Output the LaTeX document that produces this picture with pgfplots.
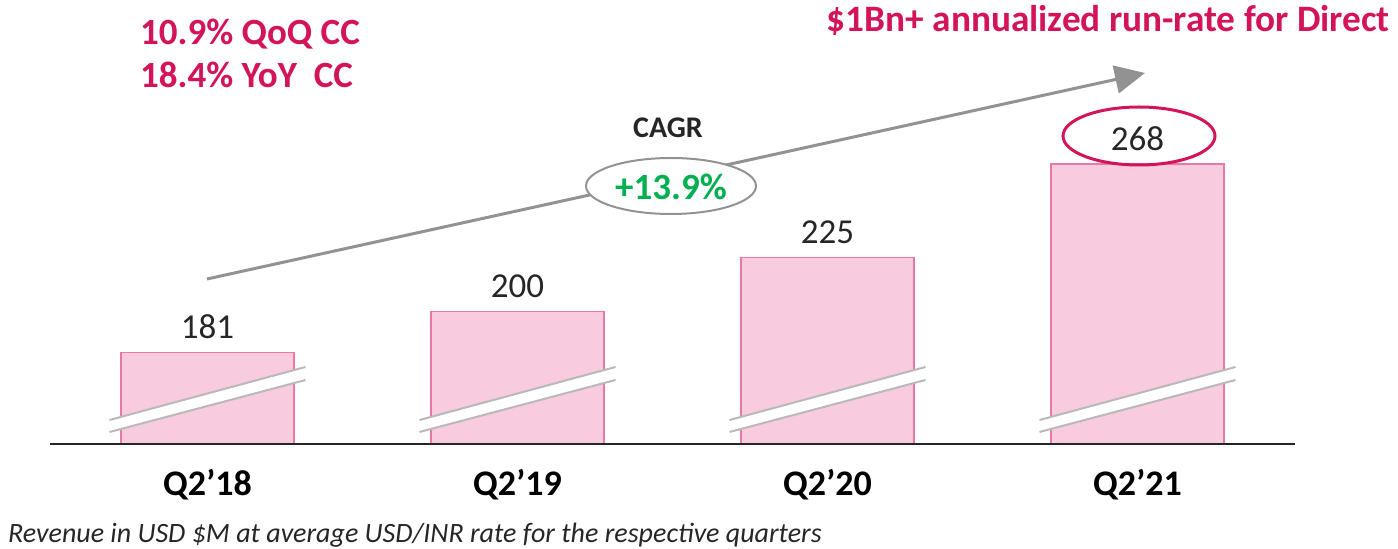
\documentclass[border=0pt]{standalone}
\usepackage{fontspec}
\setmainfont{Carlito}
\usepackage{pgfplots}
\pgfplotsset{compat=1.18}
\usetikzlibrary{arrows.meta}

\definecolor{barfill}{RGB}{249,203,222}
\definecolor{baredge}{RGB}{232,120,165}
\definecolor{accent}{RGB}{212,20,90}
\definecolor{cagrgreen}{RGB}{0,176,80}
\definecolor{arrowgray}{RGB}{146,146,146}
\definecolor{labeltext}{RGB}{38,38,38}

\begin{document}
\begin{tikzpicture}
\path[use as bounding box] (0,-105pt) rectangle (1398pt,444pt);

% ── revenue bars (broken value axis, baseline at 139) ──
\begin{axis}[
    scale only axis,
    width=1398pt, height=444pt,
    xmin=-0.669, xmax=3.840,
    ymin=139, ymax=343.6,
    ybar, bar width=173pt,
    axis line style={draw=none},
    xtick=data,
    xticklabels={Q2’18, Q2’19, Q2’20, Q2’21},
    ytick=\empty,
    major tick length=0pt,
    xticklabel style={font=\fontsize{36}{40}\selectfont\bfseries, text=black, anchor=base, yshift=-51pt},
    /pgf/number format/assume math mode=true,
    nodes near coords,
    nodes near coords style={font=\fontsize{35}{38}\selectfont, text=labeltext, anchor=base, yshift=14pt},
]
\addplot[fill=barfill, draw=baredge, line width=1.2pt] coordinates {
    (0,181) (1,200) (2,225) (3,268)
};
\end{axis}

% ── annotations, in pixel units of the reference ──
\begin{scope}[x=1pt, y=-1pt, shift={(0pt,444pt)}]
\draw[line width=2pt, black!85] (50,444) -- (1295,444);

% break marks
\foreach \c in {207.5,517.5,827.5,1137.5} {
  \fill[white] (\c-98,420) -- (\c+98,367) -- (\c+98,380) -- (\c-98,432) -- cycle;
  \draw[gray!55, line width=2pt] (\c-98,420) -- (\c+98,367) (\c-98,432) -- (\c+98,380);
}

% CAGR arrow
\draw[arrowgray, line width=3pt, -{Triangle[length=30pt,width=28pt]}] (207,279) -- (1145,73);
\filldraw[fill=white, draw=arrowgray, line width=2pt] (671,186) ellipse [x radius=85, y radius=28];
\node[text=cagrgreen, font=\fontsize{37}{40}\selectfont\bfseries] at (671,187) {+13.9\%};
\node[text=labeltext, font=\fontsize{30}{34}\selectfont\bfseries] at (668,128) {CAGR};

\draw[accent, line width=3pt] (1139,136) ellipse [x radius=76, y radius=29];

\node[anchor=base west, inner sep=0, text=accent, font=\fontsize{37}{40}\selectfont\bfseries] at (140,45) {10.9\% QoQ CC};
\node[anchor=base west, inner sep=0, text=accent, font=\fontsize{37}{40}\selectfont\bfseries] at (140,88) {18.4\% YoY\ \ CC};
\node[anchor=base east, inner sep=0, text=accent, font=\fontsize{37.3}{40}\selectfont\bfseries] at (1390,32) {\$1Bn+ annualized run-rate for Direct};

\node[anchor=base west, inner sep=0, text=labeltext, font=\fontsize{28}{32}\selectfont\itshape] at (8,542) {Revenue in USD \$M at average USD/INR rate for the respective quarters};
\end{scope}
\end{tikzpicture}
\end{document}
